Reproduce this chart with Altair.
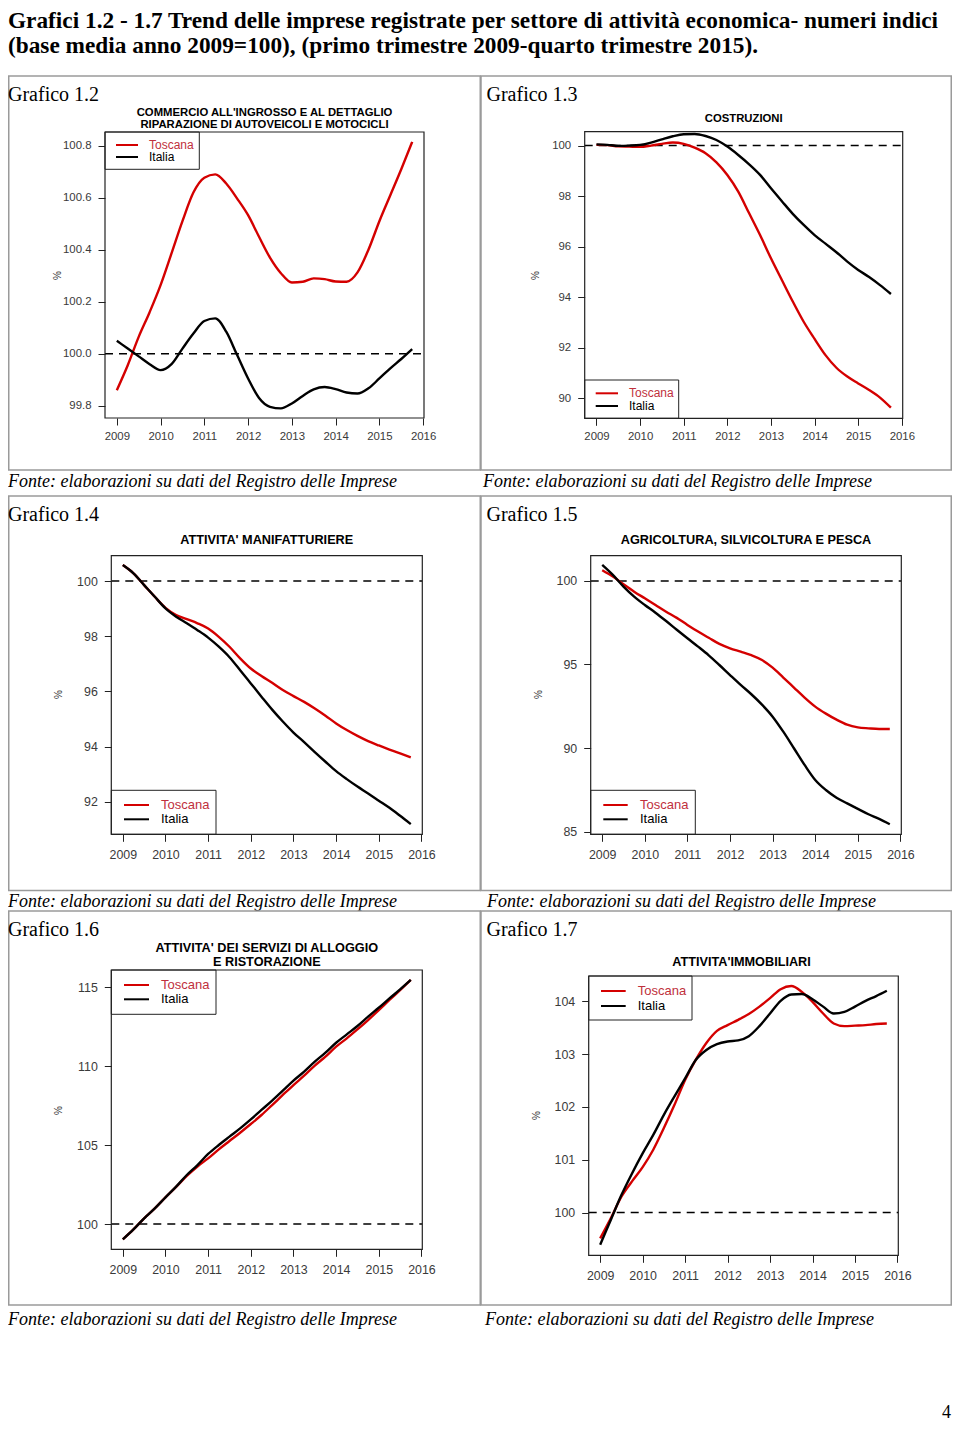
import altair as alt
import pandas as pd

# ---------------- data ----------------
quarters = [2009.0, 2009.25, 2009.5, 2009.75, 2010.0, 2010.25, 2010.5, 2010.75,
            2011.0, 2011.25, 2011.5, 2011.75, 2012.0, 2012.25, 2012.5, 2012.75,
            2013.0, 2013.25, 2013.5, 2013.75, 2014.0, 2014.25, 2014.5, 2014.75,
            2015.0, 2015.25, 2015.5, 2015.75]
series_names = ["Toscana", "Italia"]
year_ticks = [2009, 2010, 2011, 2012, 2013, 2014, 2015, 2016]

tos_12 = [99.86, 99.956, 100.065, 100.16, 100.264, 100.386, 100.51, 100.62, 100.677, 100.69,
          100.655, 100.597, 100.533, 100.45, 100.37, 100.31, 100.274, 100.277, 100.29, 100.287,
          100.278, 100.277, 100.313, 100.40, 100.51, 100.61, 100.71, 100.815]
ita_12 = [100.05, 100.02, 99.99, 99.96, 99.937, 99.96, 100.02, 100.078, 100.126, 100.136,
          100.085, 99.995, 99.905, 99.83, 99.796, 99.79, 99.809, 99.838, 99.863, 99.872,
          99.864, 99.851, 99.847, 99.867, 99.905, 99.944, 99.98, 100.018]
tos_13 = [100.03, 100.02, 99.97, 99.96, 99.95, 100.0, 100.07, 100.12, 100.07, 99.92, 99.70,
          99.34, 98.84, 98.18, 97.32, 96.46, 95.54, 94.68, 93.83, 93.03, 92.35, 91.71, 91.21,
          90.86, 90.59, 90.33, 90.03, 89.63]
ita_13 = [100.05, 100.03, 99.99, 100.0, 100.03, 100.12, 100.25, 100.37, 100.45, 100.46, 100.38,
          100.22, 99.96, 99.63, 99.26, 98.84, 98.31, 97.80, 97.30, 96.86, 96.46, 96.12, 95.78,
          95.41, 95.08, 94.80, 94.48, 94.13]
tos_14 = [100.58, 100.28, 99.855, 99.43, 99.03, 98.77, 98.62, 98.47, 98.28, 97.98, 97.62,
          97.20, 96.83, 96.56, 96.31, 96.05, 95.83, 95.62, 95.38, 95.12, 94.84, 94.60, 94.39,
          94.20, 94.04, 93.89, 93.75, 93.61]
ita_14 = [100.58, 100.28, 99.855, 99.43, 99.01, 98.71, 98.47, 98.22, 97.95, 97.62, 97.24,
          96.77, 96.29, 95.81, 95.34, 94.91, 94.51, 94.16, 93.80, 93.45, 93.11, 92.82, 92.55,
          92.30, 92.04, 91.78, 91.49, 91.19]
tos_15 = [100.64, 100.26, 99.80, 99.36, 98.96, 98.56, 98.16, 97.79, 97.37, 96.97, 96.60,
          96.23, 95.97, 95.77, 95.56, 95.27, 94.81, 94.22, 93.62, 93.02, 92.48, 92.06, 91.70,
          91.40, 91.24, 91.18, 91.14, 91.14]
ita_15 = [100.96, 100.36, 99.66, 99.06, 98.56, 98.10, 97.60, 97.08, 96.57, 96.07, 95.55,
          94.97, 94.37, 93.78, 93.22, 92.60, 91.88, 90.98, 89.99, 88.99, 88.09, 87.49, 87.03,
          86.69, 86.36, 86.04, 85.76, 85.44]
tos_16 = [99.03, 99.66, 100.36, 100.99, 101.69, 102.35, 103.05, 103.65, 104.16, 104.73, 105.26,
          105.79, 106.34, 106.91, 107.54, 108.18, 108.81, 109.40, 110.04, 110.61, 111.24, 111.77,
          112.34, 112.93, 113.56, 114.20, 114.83, 115.47]
ita_16 = [99.03, 99.66, 100.36, 100.99, 101.69, 102.37, 103.11, 103.74, 104.44, 105.01, 105.54,
          106.06, 106.63, 107.23, 107.82, 108.45, 109.09, 109.66, 110.29, 110.86, 111.49, 112.02,
          112.55, 113.14, 113.71, 114.30, 114.87, 115.47]
tos_17 = [99.51, 99.89, 100.30, 100.59, 100.86, 101.19, 101.60, 102.04, 102.51, 102.89, 103.21,
          103.44, 103.55, 103.65, 103.76, 103.90, 104.06, 104.23, 104.29, 104.18, 103.99, 103.77,
          103.58, 103.53, 103.54, 103.55, 103.57, 103.58]
ita_17 = [99.39, 99.86, 100.33, 100.74, 101.12, 101.47, 101.85, 102.20, 102.54, 102.89, 103.08,
          103.19, 103.24, 103.26, 103.34, 103.53, 103.77, 104.01, 104.13, 104.14, 104.04, 103.90,
          103.77, 103.80, 103.90, 104.01, 104.10, 104.20]

y_ticks_12 = [99.8, 100.0, 100.2, 100.4, 100.6, 100.8]
y_ticks_13 = [90, 92, 94, 96, 98, 100]
y_ticks_14 = [92, 94, 96, 98, 100]
y_ticks_15 = [85, 90, 95, 100]
y_ticks_16 = [100, 105, 110, 115]
y_ticks_17 = [100, 101, 102, 103, 104]

page_title_1 = "Grafici 1.2 - 1.7 Trend delle imprese registrate per settore di attività economica- numeri indici"
page_title_2 = "(base media anno 2009=100), (primo trimestre 2009-quarto trimestre 2015)."
source_text = "Fonte: elaborazioni su dati del Registro delle Imprese"

# ---------------- layout / style ----------------
OFF = 8
W, H = 944, 1414
RED = "#d40000"
RED_TXT = "#c0303c"
SANS = "Liberation Sans"
SERIF = "Liberation Serif"
one = pd.DataFrame({"k": [0]})


def V(v):
    return alt.value(v - OFF)


def txt(t, x, y, size, font, weight="normal", style="normal", align="left",
        baseline="alphabetic", color="black"):
    return alt.Chart(one).mark_text(text=t, font=font, fontSize=size, fontWeight=weight,
                                    fontStyle=style, align=align, baseline=baseline,
                                    color=color).encode(x=V(x), y=V(y))


def box(x0, x1, y0, y1, stroke, sw, fill="transparent"):
    return alt.Chart(one).mark_rect(fill=fill, stroke=stroke, strokeWidth=sw).encode(
        x=V(x0), x2=V(x1), y=V(y0), y2=V(y1))


def hline(x0, x1, y, color, sw):
    return alt.Chart(one).mark_rule(color=color, strokeWidth=sw).encode(
        x=V(x0), x2=V(x1), y=V(y))


def panel(p):
    L = []
    fx0, fx1, fy0, fy1 = p["frame"]
    bx0, bx1, by0, by1 = p["box"]
    L.append(box(bx0, bx1, by0, by1, "#9a9a9a", 1.5))
    L.append(txt(p["label"], p["label_xy"][0], p["label_xy"][1], 20, SERIF))
    L.append(txt(source_text, p["src_xy"][0], p["src_xy"][1], 18, SERIF, style="italic"))
    for line_txt, (tx, ty) in zip(p["title"], p["title_xy"]):
        L.append(txt(line_txt, tx, ty, p["tfs"], SANS, weight="bold", align="center",
                     baseline="middle"))

    xs = alt.Scale(domain=[2008.73, 2016.02], range=[fx0 - OFF, fx1 - OFF], nice=False, zero=False)
    ys = alt.Scale(domain=p["ydom"], range=[fy1 - OFF, fy0 - OFF], nice=False, zero=False)
    fs = p["fs"]
    ax_x = alt.Axis(orient="bottom", offset=(fy1 - OFF) - H, values=year_ticks, format="d",
                    grid=False, domain=False, tickSize=7, tickColor="#222", tickWidth=1,
                    labelFont=SANS, labelFontSize=fs, labelColor="#3a3a3a",
                    labelPadding=p["xpad"], labelFlush=False, labelOverlap=False, title=None)
    ax_y = alt.Axis(orient="left", offset=-(fx0 - OFF), values=p["yticks"], format=p["yfmt"],
                    grid=False, domain=False, tickSize=7, tickColor="#222", tickWidth=1,
                    labelFont=SANS, labelFontSize=fs, labelColor="#3a3a3a", labelPadding=7,
                    labelFlush=False, labelOverlap=False, title="%", titleFont=SANS,
                    titleFontSize=10, titleFontWeight="normal", titleColor="#333",
                    titleAngle=270, titleAlign="center", titleBaseline="middle",
                    titleX=p["pct"][0] - fx0, titleY=p["pct"][1] - OFF)

    ref = pd.DataFrame({"v": [100]})
    L.append(alt.Chart(ref).mark_rule(color="black", strokeWidth=1.5, strokeDash=[8, 6]).encode(
        y=alt.Y("v:Q", scale=ys, axis=None), x=V(fx0), x2=V(fx1)))

    first = True
    for name, vals, col in [("Toscana", p["tos"], RED), ("Italia", p["ita"], "black")]:
        df = pd.DataFrame({"t": quarters, "v": vals, "serie": name})
        L.append(alt.Chart(df).mark_line(color=col, strokeWidth=2.4, interpolate="monotone").encode(
            x=alt.X("t:Q", scale=xs, axis=ax_x if first else None),
            y=alt.Y("v:Q", scale=ys, axis=ax_y if first else None)))
        first = False

    # legend
    lx0, lx1, ly0, ly1 = p["leg_box"]
    L.append(box(lx0, lx1, ly0, ly1, "#222", 1, fill="white"))
    sx0, sx1, tx = p["leg_x"]
    for name, yy, col, tcol in zip(series_names, p["leg_y"], [RED, "black"], [RED_TXT, "black"]):
        L.append(hline(sx0, sx1, yy, col, 2))
        L.append(txt(name, tx, yy, p["lfs"], SANS, baseline="middle", color=tcol))

    L.append(box(fx0, fx1, fy0, fy1, "#222", 1.2))
    return L


R1 = dict(tfs=11.3, fs=11.4, lfs=12, xpad=5)
R2 = dict(tfs=12.7, fs=12.4, lfs=13, xpad=7)

panels = [
    dict(label="Grafico 1.2", label_xy=(8, 101), src_xy=(8, 487), box=(8.75, 480.25, 76, 470),
         title=["COMMERCIO ALL'INGROSSO E AL DETTAGLIO", "RIPARAZIONE DI AUTOVEICOLI E MOTOCICLI"],
         title_xy=[(264.5, 112.5), (264.5, 125)], **R1,
         frame=(105, 424, 132, 418), ydom=[99.753, 100.853], yticks=y_ticks_12, yfmt=".1f",
         pct=(57, 275), tos=tos_12, ita=ita_12,
         leg_box=(105, 199.3, 132, 169.3), leg_x=(116, 138, 149), leg_y=(145, 157)),
    dict(label="Grafico 1.3", label_xy=(486.5, 101), src_xy=(483, 487), box=(481, 951.25, 76, 470),
         title=["COSTRUZIONI"], title_xy=[(743.7, 118.7)], **R1,
         frame=(584.7, 902.7, 131.7, 418.3), ydom=[89.21, 100.55], yticks=y_ticks_13, yfmt="d",
         pct=(535, 275), tos=tos_13, ita=ita_13,
         leg_box=(584.7, 678.7, 380, 418.3), leg_x=(595.7, 618, 629), leg_y=(393.3, 406)),
    dict(label="Grafico 1.4", label_xy=(8, 521), src_xy=(8, 906.5), box=(8.75, 480.25, 496, 890.5),
         title=["ATTIVITA' MANIFATTURIERE"], title_xy=[(266.8, 540.3)], **R2,
         frame=(111.3, 422.3, 555.7, 834.3), ydom=[90.82, 100.92], yticks=y_ticks_14, yfmt="d",
         pct=(58, 694), tos=tos_14, ita=ita_14,
         leg_box=(111.3, 216, 790.3, 834.3), leg_x=(124, 149, 161), leg_y=(805, 819.3)),
    dict(label="Grafico 1.5", label_xy=(486.5, 521), src_xy=(487, 906.5), box=(481, 951.25, 496, 890.5),
         title=["AGRICOLTURA, SILVICOLTURA E PESCA"], title_xy=[(746, 540.3)], **R2,
         frame=(590.7, 901.3, 555.7, 834.3), ydom=[84.84, 101.51], yticks=y_ticks_15, yfmt="d",
         pct=(538, 694), tos=tos_15, ita=ita_15,
         leg_box=(590.7, 695.3, 790.3, 834.3), leg_x=(603.3, 627.7, 640), leg_y=(805, 819.3)),
    dict(label="Grafico 1.6", label_xy=(8, 936), src_xy=(8, 1325), box=(8.75, 480.25, 911, 1305),
         title=["ATTIVITA' DEI SERVIZI DI ALLOGGIO", "E RISTORAZIONE"],
         title_xy=[(266.8, 948.3), (266.8, 962)], **R2,
         frame=(111.3, 422.3, 970, 1249.3), ydom=[98.4, 116.1], yticks=y_ticks_16, yfmt="d",
         pct=(58, 1110), tos=tos_16, ita=ita_16,
         leg_box=(111.3, 216, 970, 1014.3), leg_x=(124, 149, 161), leg_y=(985, 999.3)),
    dict(label="Grafico 1.7", label_xy=(486.5, 936), src_xy=(485, 1325), box=(481, 951.25, 911, 1305),
         title=["ATTIVITA'IMMOBILIARI"], title_xy=[(741.5, 961.7)], **R2,
         frame=(588.7, 898.3, 976, 1255.3), ydom=[99.19, 104.48], yticks=y_ticks_17, yfmt="d",
         pct=(536, 1115), tos=tos_17, ita=ita_17,
         leg_box=(588.7, 692, 976, 1020), leg_x=(601, 625.7, 637.7), leg_y=(991, 1006)),
]

layers = [
    txt(page_title_1, 8, 28, 23.3, SERIF, weight="bold"),
    txt(page_title_2, 8, 53, 23.3, SERIF, weight="bold"),
    txt("4", 951, 1418, 18, SERIF, align="right"),
]
for p in panels:
    layers.extend(panel(p))

chart = alt.layer(*layers).resolve_scale(x="independent", y="independent").properties(
    width=W, height=H, padding=0, autosize=alt.AutoSizeParams(type="none")
).configure_view(stroke="transparent")

chart.save("out.html", embed_options={"renderer": "svg", "actions": False})
